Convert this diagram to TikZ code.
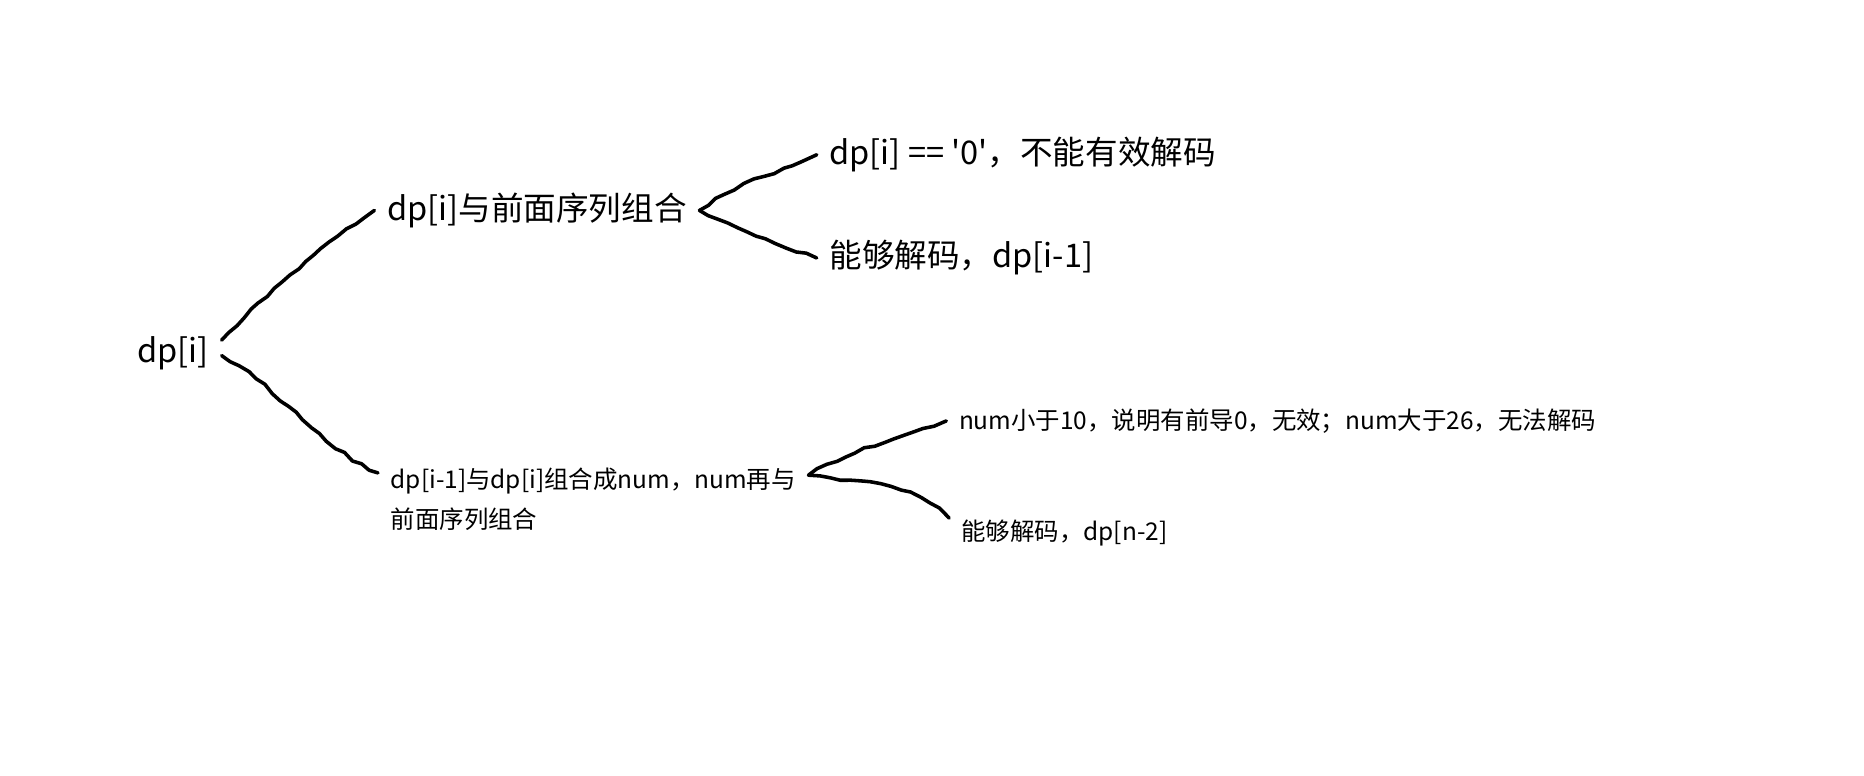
\documentclass[tikz,border=0pt]{standalone}
\usepackage{fontspec}
\newfontfamily\cjk{Noto Sans CJK SC}[Ligatures=TeXOff]
\usetikzlibrary{calc,decorations.pathmorphing}

\begin{document}
\begin{tikzpicture}[
    big/.style={anchor=west, inner xsep=0.1cm, inner ysep=0pt, font=\cjk\fontsize{7.8}{10}\selectfont},
    small/.style={anchor=west, inner xsep=0.1cm, inner ysep=0pt, align=left, font=\cjk\fontsize{5.85}{9.7}\selectfont},
    branch/.style={line width=0.85pt, line cap=round, line join=round, decorate,
        decoration={random steps, segment length=2.5pt, amplitude=0.35pt}}
]
    \pgfmathsetseed{7}
    \useasboundingbox (0,1.23) rectangle (15.68,7.75);

    % text
    \node[big] (root) at (1.05, 4.78) {dp[i]};
    \node[big] (a) at (3.15, 5.98) {dp[i]与前面序列组合};
    \node[big] (a1) at (6.87, 6.45) {dp[i] == '0'，不能有效解码};
    \node[big] (a2) at (6.87, 5.58) {能够解码，dp[i-1]};
    \node[small] (b) at (3.18, 3.55) {dp[i-1]与dp[i]组合成num，num再与\\前面序列组合};
    \node[small] (b1) at (7.96, 4.21) {num小于10，说明有前导0，无效；num大于26，无法解码};
    \node[small] (b2) at (7.98, 3.27) {能够解码，dp[n-2]};

    % branches
    \draw[branch] (root.15) to[out=45, in=215] (a.west);
    \draw[branch] (root.-3) to[out=-30, in=155] ($(b.north west)+(0,-0.05)$);
    \draw[branch] (a.east) to[out=35, in=205] (a1.west);
    \draw[branch] (a.east) to[out=-25, in=160] (a2.west);
    \draw[branch] ($(b.north east)+(0,-0.07)$) to[out=30, in=200] (b1.west);
    \draw[branch] ($(b.north east)+(0,-0.07)$) to[out=-10, in=135] (b2.north west);
\end{tikzpicture}
\end{document}
